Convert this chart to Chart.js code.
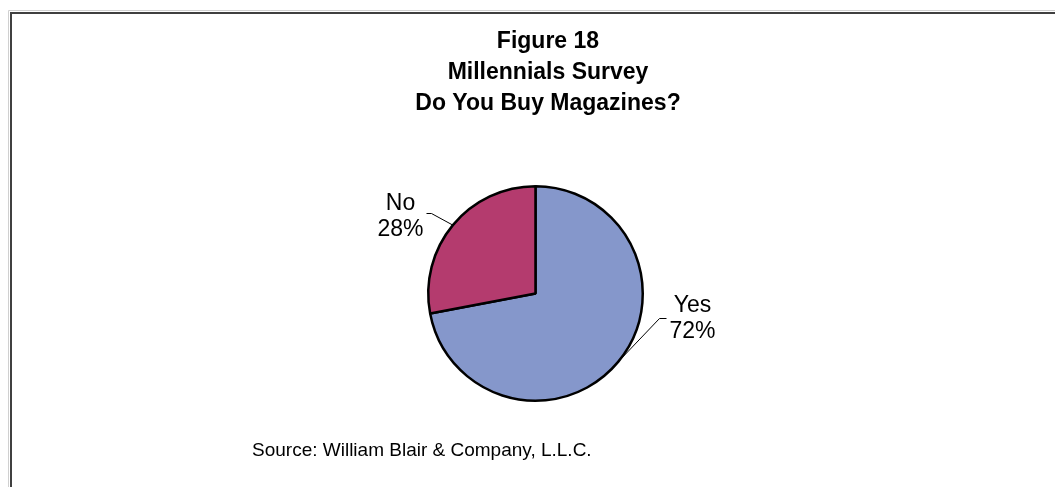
<!DOCTYPE html>
<html>
<head>
<meta charset="utf-8">
<script src="https://cdn.jsdelivr.net/npm/chart.js@4/dist/chart.umd.min.js"></script>
<style>
  html, body { margin: 0; padding: 0; background: #fff; }
  #wrap { width: 1055px; height: 487px; position: relative; }
</style>
</head>
<body>
<div id="wrap"><canvas id="myChart"></canvas></div>
<script>
"use strict";

// survey answers
const answers = ["Yes", "No"];
const shares = [72, 28];
const sliceColors = ["#8597CB", "#B43B6E"];

const titleLines = ["Figure 18", "Millennials Survey", "Do You Buy Magazines?"];
const sourceNote = "Source: William Blair & Company, L.L.C.";

// frame + titles + source line
const frame = {
  id: "frame",
  beforeDraw(chart) {
    const c = chart.ctx;
    c.save();
    c.fillStyle = "#fff";
    c.fillRect(0, 0, chart.width, chart.height);
    c.strokeStyle = "#d0d0d0";
    c.lineWidth = 1;
    c.beginPath();
    c.moveTo(8.5, chart.height);
    c.lineTo(8.5, 10.5);
    c.lineTo(chart.width, 10.5);
    c.stroke();
    c.strokeStyle = "#404040";
    c.lineWidth = 2;
    c.beginPath();
    c.moveTo(11, chart.height);
    c.lineTo(11, 13);
    c.lineTo(chart.width, 13);
    c.stroke();
    c.restore();
  },
  afterDraw(chart) {
    const c = chart.ctx;
    c.save();
    c.fillStyle = "#000";
    c.textAlign = "center";
    c.textBaseline = "alphabetic";
    c.font = "bold 23px 'Liberation Sans', Arial, sans-serif";
    titleLines.forEach((t, i) => c.fillText(t, 548, 48 + i * 31));
    c.textAlign = "left";
    c.font = "19px 'Liberation Sans', Arial, sans-serif";
    c.fillText(sourceNote, 252, 456);
    c.restore();
  }
};

// category + percent labels with leader lines
const labelOffsets = [{ x: 157, y: 25 }, { x: -135, y: -77 }];
const sliceLabels = {
  id: "sliceLabels",
  afterDatasetsDraw(chart) {
    const c = chart.ctx;
    const meta = chart.getDatasetMeta(0);
    const total = shares.reduce((a, b) => a + b, 0);
    c.save();
    c.font = "23px 'Liberation Sans', Arial, sans-serif";
    c.textAlign = "center";
    c.textBaseline = "middle";
    meta.data.forEach((arc, i) => {
      const mid = (arc.startAngle + arc.endAngle) / 2;
      const ex = arc.x + Math.cos(mid) * arc.outerRadius;
      const ey = arc.y + Math.sin(mid) * arc.outerRadius;
      const lx = arc.x + labelOffsets[i].x;
      const ly = arc.y + labelOffsets[i].y;
      const right = labelOffsets[i].x > 0;
      const elbowX = right ? lx - 26 : lx + 26;
      const elbowY = right ? ly : ly - 3;
      const tipX = right ? elbowX - 7 : elbowX + 5;
      c.strokeStyle = "#000";
      c.lineWidth = 1;
      c.beginPath();
      c.moveTo(ex, ey);
      c.lineTo(tipX, elbowY);
      c.lineTo(elbowX, elbowY);
      c.stroke();
      const pct = Math.round(shares[i] / total * 100) + "%";
      c.fillStyle = "#000";
      c.fillText(answers[i], lx, ly - 13);
      c.fillText(pct, lx, ly + 13);
    });
    c.restore();
  }
};

const ctx = document.getElementById("myChart").getContext("2d");
const myChart = new Chart(ctx, {
  type: "pie",
  data: {
    labels: answers,
    datasets: [{
      data: shares,
      backgroundColor: sliceColors,
      borderColor: "#000",
      borderWidth: 2.5,
      hoverOffset: 0
    }]
  },
  options: {
    responsive: true,
    maintainAspectRatio: false,
    animation: false,
    layout: {
      padding: { left: 427, right: 411, top: 185, bottom: 85 }
    },
    plugins: {
      legend: { display: false },
      title: { display: false },
      tooltip: { enabled: false }
    }
  },
  plugins: [frame, sliceLabels]
});
</script>
</body>
</html>
